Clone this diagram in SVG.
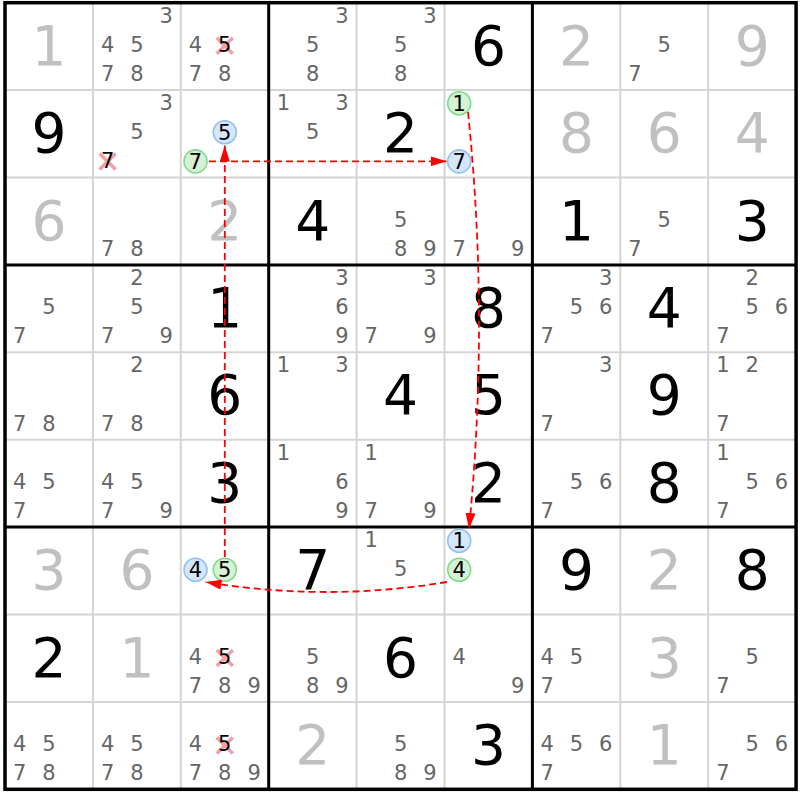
<svg xmlns="http://www.w3.org/2000/svg" width="800" height="800" viewBox="0 0 800 800">
<defs>
<style>
text{font-family:"DejaVu Sans","Liberation Sans",sans-serif;text-anchor:middle}
.g{font-size:55px;fill:#000}
.s{font-size:55px;fill:#c0c0c0}
.c{font-size:21px;fill:#666}
.k{font-size:21px;fill:#000}
.q{font-size:21px;fill:#000}
.cb{fill:#d6e7fb;stroke:#8fc1f3;stroke-width:1.6}
.cg{fill:#d5f2d5;stroke:#7fd98f;stroke-width:1.6}
.x{stroke:#f5a0a6;stroke-width:3.5;fill:none}
.thin{stroke:#d4d4d4;stroke-width:2}
.thick{stroke:#000;stroke-width:3}
.lnk{fill:none;stroke:#ff0000;stroke-width:1.8;stroke-dasharray:7 4}
</style>
<marker id="ah" markerUnits="userSpaceOnUse" markerWidth="16" markerHeight="10" refX="16" refY="5" orient="auto">
<path d="M0,0 L16,5 L0,10 z" fill="#ff0000"/>
</marker>
</defs>
<rect width="800" height="800" fill="#fff"/>
<g id="grid">
<g class="thin">
<line x1="92.9" y1="2.7" x2="92.9" y2="789.3"/><line x1="180.8" y1="2.7" x2="180.8" y2="789.3"/>
<line x1="356.6" y1="2.7" x2="356.6" y2="789.3"/><line x1="444.5" y1="2.7" x2="444.5" y2="789.3"/>
<line x1="620.3" y1="2.7" x2="620.3" y2="789.3"/><line x1="708.2" y1="2.7" x2="708.2" y2="789.3"/>
<line x1="5" y1="90.1" x2="796.1" y2="90.1"/><line x1="5" y1="177.5" x2="796.1" y2="177.5"/>
<line x1="5" y1="352.3" x2="796.1" y2="352.3"/><line x1="5" y1="439.7" x2="796.1" y2="439.7"/>
<line x1="5" y1="614.5" x2="796.1" y2="614.5"/><line x1="5" y1="701.9" x2="796.1" y2="701.9"/>
</g>
<g class="thick">
<line x1="268.7" y1="2.7" x2="268.7" y2="789.3"/><line x1="532.4" y1="2.7" x2="532.4" y2="789.3"/>
<line x1="5" y1="264.9" x2="796.1" y2="264.9"/><line x1="5" y1="527.1" x2="796.1" y2="527.1"/>
<rect x="5" y="2.7" width="791.1" height="786.6" fill="none" stroke-width="3.5"/>
</g>
</g>

<!-- Row 0 -->
<g id="r0c0" transform="translate(5,2.7)"><text class="s" x="44" y="62">1</text></g>
<g id="r0c1" transform="translate(92.9,2.7)"><text class="c" x="73.3" y="20.1">3</text><text class="c" x="14.7" y="49.2">4</text><text class="c" x="44" y="49.2">5</text><text class="c" x="14.7" y="78.3">7</text><text class="c" x="44" y="78.3">8</text></g>
<g id="r0c2" transform="translate(180.8,2.7)"><text class="c" x="14.7" y="49.2">4</text><path class="x" d="M36,35 L52,51 M52,35 L36,51"/><text class="k" x="44" y="49.2">5</text><text class="c" x="14.7" y="78.3">7</text><text class="c" x="44" y="78.3">8</text></g>
<g id="r0c3" transform="translate(268.7,2.7)"><text class="c" x="73.3" y="20.1">3</text><text class="c" x="44" y="49.2">5</text><text class="c" x="44" y="78.3">8</text></g>
<g id="r0c4" transform="translate(356.6,2.7)"><text class="c" x="73.3" y="20.1">3</text><text class="c" x="44" y="49.2">5</text><text class="c" x="44" y="78.3">8</text></g>
<g id="r0c5" transform="translate(444.5,2.7)"><text class="g" x="44" y="62">6</text></g>
<g id="r0c6" transform="translate(532.4,2.7)"><text class="s" x="44" y="62">2</text></g>
<g id="r0c7" transform="translate(620.3,2.7)"><text class="c" x="44" y="49.2">5</text><text class="c" x="14.7" y="78.3">7</text></g>
<g id="r0c8" transform="translate(708.2,2.7)"><text class="s" x="44" y="62">9</text></g>

<!-- Row 1 -->
<g id="r1c0" transform="translate(5,90.1)"><text class="g" x="44" y="62">9</text></g>
<g id="r1c1" transform="translate(92.9,90.1)"><text class="c" x="73.3" y="20.1">3</text><text class="c" x="44" y="49.2">5</text><path class="x" d="M6.7,63.5 L22.7,79.5 M22.7,63.5 L6.7,79.5"/><text class="k" x="14.7" y="78.3">7</text></g>
<g id="r1c2" transform="translate(180.8,90.1)"><circle class="cb" cx="44" cy="42.2" r="11.5"/><text class="q" x="44" y="49.7">5</text><circle class="cg" cx="14.7" cy="71.3" r="11.5"/><text class="q" x="14.7" y="78.8">7</text></g>
<g id="r1c3" transform="translate(268.7,90.1)"><text class="c" x="14.7" y="20.1">1</text><text class="c" x="73.3" y="20.1">3</text><text class="c" x="44" y="49.2">5</text></g>
<g id="r1c4" transform="translate(356.6,90.1)"><text class="g" x="44" y="62">2</text></g>
<g id="r1c5" transform="translate(444.5,90.1)"><circle class="cg" cx="14.7" cy="13.1" r="11.5"/><text class="q" x="14.7" y="20.6">1</text><circle class="cb" cx="14.7" cy="71.3" r="11.5"/><text class="q" x="14.7" y="78.8">7</text></g>
<g id="r1c6" transform="translate(532.4,90.1)"><text class="s" x="44" y="62">8</text></g>
<g id="r1c7" transform="translate(620.3,90.1)"><text class="s" x="44" y="62">6</text></g>
<g id="r1c8" transform="translate(708.2,90.1)"><text class="s" x="44" y="62">4</text></g>

<!-- Row 2 -->
<g id="r2c0" transform="translate(5,177.5)"><text class="s" x="44" y="62">6</text></g>
<g id="r2c1" transform="translate(92.9,177.5)"><text class="c" x="14.7" y="78.3">7</text><text class="c" x="44" y="78.3">8</text></g>
<g id="r2c2" transform="translate(180.8,177.5)"><text class="s" x="44" y="62">2</text></g>
<g id="r2c3" transform="translate(268.7,177.5)"><text class="g" x="44" y="62">4</text></g>
<g id="r2c4" transform="translate(356.6,177.5)"><text class="c" x="44" y="49.2">5</text><text class="c" x="44" y="78.3">8</text><text class="c" x="73.3" y="78.3">9</text></g>
<g id="r2c5" transform="translate(444.5,177.5)"><text class="c" x="14.7" y="78.3">7</text><text class="c" x="73.3" y="78.3">9</text></g>
<g id="r2c6" transform="translate(532.4,177.5)"><text class="g" x="44" y="62">1</text></g>
<g id="r2c7" transform="translate(620.3,177.5)"><text class="c" x="44" y="49.2">5</text><text class="c" x="14.7" y="78.3">7</text></g>
<g id="r2c8" transform="translate(708.2,177.5)"><text class="g" x="44" y="62">3</text></g>

<!-- Row 3 -->
<g id="r3c0" transform="translate(5,264.9)"><text class="c" x="44" y="49.2">5</text><text class="c" x="14.7" y="78.3">7</text></g>
<g id="r3c1" transform="translate(92.9,264.9)"><text class="c" x="44" y="20.1">2</text><text class="c" x="44" y="49.2">5</text><text class="c" x="14.7" y="78.3">7</text><text class="c" x="73.3" y="78.3">9</text></g>
<g id="r3c2" transform="translate(180.8,264.9)"><text class="g" x="44" y="62">1</text></g>
<g id="r3c3" transform="translate(268.7,264.9)"><text class="c" x="73.3" y="20.1">3</text><text class="c" x="73.3" y="49.2">6</text><text class="c" x="73.3" y="78.3">9</text></g>
<g id="r3c4" transform="translate(356.6,264.9)"><text class="c" x="73.3" y="20.1">3</text><text class="c" x="14.7" y="78.3">7</text><text class="c" x="73.3" y="78.3">9</text></g>
<g id="r3c5" transform="translate(444.5,264.9)"><text class="g" x="44" y="62">8</text></g>
<g id="r3c6" transform="translate(532.4,264.9)"><text class="c" x="73.3" y="20.1">3</text><text class="c" x="44" y="49.2">5</text><text class="c" x="73.3" y="49.2">6</text><text class="c" x="14.7" y="78.3">7</text></g>
<g id="r3c7" transform="translate(620.3,264.9)"><text class="g" x="44" y="62">4</text></g>
<g id="r3c8" transform="translate(708.2,264.9)"><text class="c" x="44" y="20.1">2</text><text class="c" x="44" y="49.2">5</text><text class="c" x="73.3" y="49.2">6</text><text class="c" x="14.7" y="78.3">7</text></g>

<!-- Row 4 -->
<g id="r4c0" transform="translate(5,352.3)"><text class="c" x="14.7" y="78.3">7</text><text class="c" x="44" y="78.3">8</text></g>
<g id="r4c1" transform="translate(92.9,352.3)"><text class="c" x="44" y="20.1">2</text><text class="c" x="14.7" y="78.3">7</text><text class="c" x="44" y="78.3">8</text></g>
<g id="r4c2" transform="translate(180.8,352.3)"><text class="g" x="44" y="62">6</text></g>
<g id="r4c3" transform="translate(268.7,352.3)"><text class="c" x="14.7" y="20.1">1</text><text class="c" x="73.3" y="20.1">3</text></g>
<g id="r4c4" transform="translate(356.6,352.3)"><text class="g" x="44" y="62">4</text></g>
<g id="r4c5" transform="translate(444.5,352.3)"><text class="g" x="44" y="62">5</text></g>
<g id="r4c6" transform="translate(532.4,352.3)"><text class="c" x="73.3" y="20.1">3</text><text class="c" x="14.7" y="78.3">7</text></g>
<g id="r4c7" transform="translate(620.3,352.3)"><text class="g" x="44" y="62">9</text></g>
<g id="r4c8" transform="translate(708.2,352.3)"><text class="c" x="14.7" y="20.1">1</text><text class="c" x="44" y="20.1">2</text><text class="c" x="14.7" y="78.3">7</text></g>

<!-- Row 5 -->
<g id="r5c0" transform="translate(5,439.7)"><text class="c" x="14.7" y="49.2">4</text><text class="c" x="44" y="49.2">5</text><text class="c" x="14.7" y="78.3">7</text></g>
<g id="r5c1" transform="translate(92.9,439.7)"><text class="c" x="14.7" y="49.2">4</text><text class="c" x="44" y="49.2">5</text><text class="c" x="14.7" y="78.3">7</text><text class="c" x="73.3" y="78.3">9</text></g>
<g id="r5c2" transform="translate(180.8,439.7)"><text class="g" x="44" y="62">3</text></g>
<g id="r5c3" transform="translate(268.7,439.7)"><text class="c" x="14.7" y="20.1">1</text><text class="c" x="73.3" y="49.2">6</text><text class="c" x="73.3" y="78.3">9</text></g>
<g id="r5c4" transform="translate(356.6,439.7)"><text class="c" x="14.7" y="20.1">1</text><text class="c" x="14.7" y="78.3">7</text><text class="c" x="73.3" y="78.3">9</text></g>
<g id="r5c5" transform="translate(444.5,439.7)"><text class="g" x="44" y="62">2</text></g>
<g id="r5c6" transform="translate(532.4,439.7)"><text class="c" x="44" y="49.2">5</text><text class="c" x="73.3" y="49.2">6</text><text class="c" x="14.7" y="78.3">7</text></g>
<g id="r5c7" transform="translate(620.3,439.7)"><text class="g" x="44" y="62">8</text></g>
<g id="r5c8" transform="translate(708.2,439.7)"><text class="c" x="14.7" y="20.1">1</text><text class="c" x="44" y="49.2">5</text><text class="c" x="73.3" y="49.2">6</text><text class="c" x="14.7" y="78.3">7</text></g>

<!-- Row 6 -->
<g id="r6c0" transform="translate(5,527.1)"><text class="s" x="44" y="62">3</text></g>
<g id="r6c1" transform="translate(92.9,527.1)"><text class="s" x="44" y="62">6</text></g>
<g id="r6c2" transform="translate(180.8,527.1)"><circle class="cb" cx="14.7" cy="42.7" r="11.5"/><text class="q" x="14.7" y="50.2">4</text><circle class="cg" cx="44" cy="42.7" r="11.5"/><text class="q" x="44" y="50.2">5</text></g>
<g id="r6c3" transform="translate(268.7,527.1)"><text class="g" x="44" y="62">7</text></g>
<g id="r6c4" transform="translate(356.6,527.1)"><text class="c" x="14.7" y="20.1">1</text><text class="c" x="44" y="49.2">5</text></g>
<g id="r6c5" transform="translate(444.5,527.1)"><circle class="cb" cx="14.7" cy="13.6" r="11.5"/><text class="q" x="14.7" y="21.1">1</text><circle class="cg" cx="14.7" cy="42.7" r="11.5"/><text class="q" x="14.7" y="50.2">4</text></g>
<g id="r6c6" transform="translate(532.4,527.1)"><text class="g" x="44" y="62">9</text></g>
<g id="r6c7" transform="translate(620.3,527.1)"><text class="s" x="44" y="62">2</text></g>
<g id="r6c8" transform="translate(708.2,527.1)"><text class="g" x="44" y="62">8</text></g>

<!-- Row 7 -->
<g id="r7c0" transform="translate(5,614.5)"><text class="g" x="44" y="62">2</text></g>
<g id="r7c1" transform="translate(92.9,614.5)"><text class="s" x="44" y="62">1</text></g>
<g id="r7c2" transform="translate(180.8,614.5)"><text class="c" x="14.7" y="49.2">4</text><path class="x" d="M36,35.5 L52,51.5 M52,35.5 L36,51.5"/><text class="k" x="44" y="49.2">5</text><text class="c" x="14.7" y="78.3">7</text><text class="c" x="44" y="78.3">8</text><text class="c" x="73.3" y="78.3">9</text></g>
<g id="r7c3" transform="translate(268.7,614.5)"><text class="c" x="44" y="49.2">5</text><text class="c" x="44" y="78.3">8</text><text class="c" x="73.3" y="78.3">9</text></g>
<g id="r7c4" transform="translate(356.6,614.5)"><text class="g" x="44" y="62">6</text></g>
<g id="r7c5" transform="translate(444.5,614.5)"><text class="c" x="14.7" y="49.2">4</text><text class="c" x="73.3" y="78.3">9</text></g>
<g id="r7c6" transform="translate(532.4,614.5)"><text class="c" x="14.7" y="49.2">4</text><text class="c" x="44" y="49.2">5</text><text class="c" x="14.7" y="78.3">7</text></g>
<g id="r7c7" transform="translate(620.3,614.5)"><text class="s" x="44" y="62">3</text></g>
<g id="r7c8" transform="translate(708.2,614.5)"><text class="c" x="44" y="49.2">5</text><text class="c" x="14.7" y="78.3">7</text></g>

<!-- Row 8 -->
<g id="r8c0" transform="translate(5,701.9)"><text class="c" x="14.7" y="49.2">4</text><text class="c" x="44" y="49.2">5</text><text class="c" x="14.7" y="78.3">7</text><text class="c" x="44" y="78.3">8</text></g>
<g id="r8c1" transform="translate(92.9,701.9)"><text class="c" x="14.7" y="49.2">4</text><text class="c" x="44" y="49.2">5</text><text class="c" x="14.7" y="78.3">7</text><text class="c" x="44" y="78.3">8</text></g>
<g id="r8c2" transform="translate(180.8,701.9)"><text class="c" x="14.7" y="49.2">4</text><path class="x" d="M36,35.5 L52,51.5 M52,35.5 L36,51.5"/><text class="k" x="44" y="49.2">5</text><text class="c" x="14.7" y="78.3">7</text><text class="c" x="44" y="78.3">8</text><text class="c" x="73.3" y="78.3">9</text></g>
<g id="r8c3" transform="translate(268.7,701.9)"><text class="s" x="44" y="62">2</text></g>
<g id="r8c4" transform="translate(356.6,701.9)"><text class="c" x="44" y="49.2">5</text><text class="c" x="44" y="78.3">8</text><text class="c" x="73.3" y="78.3">9</text></g>
<g id="r8c5" transform="translate(444.5,701.9)"><text class="g" x="44" y="62">3</text></g>
<g id="r8c6" transform="translate(532.4,701.9)"><text class="c" x="14.7" y="49.2">4</text><text class="c" x="44" y="49.2">5</text><text class="c" x="73.3" y="49.2">6</text><text class="c" x="14.7" y="78.3">7</text></g>
<g id="r8c7" transform="translate(620.3,701.9)"><text class="s" x="44" y="62">1</text></g>
<g id="r8c8" transform="translate(708.2,701.9)"><text class="c" x="44" y="49.2">5</text><text class="c" x="73.3" y="49.2">6</text><text class="c" x="14.7" y="78.3">7</text></g>

<g id="connectors">
<path class="lnk" d="M209,161.3 L446.5,161.3" marker-end="url(#ah)"/>
<path class="lnk" d="M468,112 Q489.5,320 469,529" marker-end="url(#ah)"/>
<path class="lnk" d="M447,582 Q326,602 205.5,582" marker-end="url(#ah)"/>
<path class="lnk" d="M224.8,557 L224.8,145.5" marker-end="url(#ah)"/>
</g>
</svg>
